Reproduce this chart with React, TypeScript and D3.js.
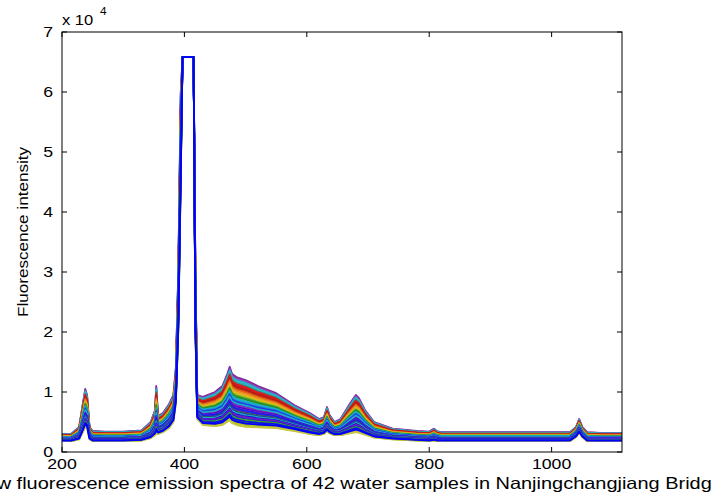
import React from "react";
import * as d3 from "d3";

// Wavelength breakpoints (nm)
const wavelengths = [200, 215, 228, 234, 238, 241, 245, 250, 270, 300, 330, 345, 352, 354, 357, 365, 375, 382, 386, 390, 394, 397, 415, 418, 421, 430, 450, 462, 470, 474, 478, 485, 500, 520, 550, 580, 605, 620, 628, 633, 637, 645, 655, 670, 680, 685, 695, 710, 740, 780, 800, 808, 812, 820, 860, 900, 950, 1000, 1030, 1040, 1045, 1050, 1058, 1080, 1115];
// Upper envelope of the 42 spectra
const upperEnvelope = [3000, 3000, 4200, 8000, 10500, 9500, 4200, 3500, 3400, 3400, 3600, 5000, 7000, 11000, 6000, 6500, 8000, 9500, 14000, 30000, 60000, 65800, 65800, 30000, 9500, 9200, 10000, 11000, 13000, 14200, 13000, 12500, 12000, 11000, 9800, 7800, 6500, 5500, 5800, 7500, 6200, 5000, 5500, 8000, 9500, 9000, 7000, 5000, 3900, 3500, 3400, 3900, 3500, 3300, 3300, 3300, 3300, 3300, 3300, 4200, 5500, 4200, 3300, 3200, 3200];
// Lower envelope of the 42 spectra
const lowerEnvelope = [1800, 1800, 2100, 3300, 4200, 3900, 2100, 1800, 1800, 1800, 1900, 2300, 2800, 3000, 3000, 3300, 4000, 5000, 8000, 20000, 45000, 65800, 65800, 20000, 5500, 4500, 4300, 4500, 5000, 5300, 4800, 4500, 4200, 4100, 4000, 3500, 3000, 2800, 3000, 3400, 3100, 2800, 2800, 3100, 3300, 3200, 2900, 2400, 2100, 1900, 1800, 1900, 1800, 1800, 1800, 1800, 1800, 1800, 1800, 2500, 3200, 2500, 1800, 1800, 1800];

// 42 samples: relative position inside the band (1 = top, 0 = bottom), in drawing order
const sampleLevels = [1.0, 0.97, 0.94, 0.91, 0.88, 0.85, 0.82, 0.79, 0.76, 0.73, 0.70, 0.67, 0.64, 0.61, 0.58, 0.55, 0.52, 0.43, 0.40, 0.31, 0.19, 0.13, 0.09, 0.05, 0.03, 0.01, 0.0,
  0.49, 0.46, 0.45, 0.37, 0.355, 0.34, 0.28, 0.265, 0.25, 0.22, 0.205, 0.16, 0.145, 0.11, 0.07];
const sampleColors = ["#7a2a9a", "#a030b0", "#20a8c8", "#30b8c0", "#20a0a0", "#d02020", "#e01818", "#a81818", "#c83010", "#e06818", "#f08a20", "#e0b020", "#c8c010", "#40a030", "#208a20", "#20b0b0", "#10a8d8", "#6a20c0", "#9020a8", "#5028b8", "#7030a8", "#208a20", "#40a040", "#90b820", "#c0c020", "#a8c830", "#c8c840",
  "#2050e0", "#1010f0", "#20a8c8", "#0000ff", "#a020b0", "#1820e8", "#208a20", "#2020d8", "#20b0b0", "#0000ee", "#6a20c0", "#0000ff", "#40a030", "#1010e8", "#0000ff"];

const xTicks = [200, 400, 600, 800, 1000];
const yTicks = [0, 1, 2, 3, 4, 5, 6, 7];

const W = 712, H = 497;
const L = 62, R = 622, T = 32, B = 452;
const FONT = "'Liberation Sans', Arial, Helvetica, sans-serif";
const STRETCH = 1.18;

export default function App() {
  const x = d3.scaleLinear().domain([200, 1115]).range([L, R]);
  const y = d3.scaleLinear().domain([0, 70000]).range([B, T]);
  const line = d3.line<[number, number]>().x((d) => x(d[0])).y((d) => y(d[1]));
  const tl = 5;

  return (
    <svg width={W} height={H} style={{ position: "absolute", left: 0, top: 0, background: "#fff" }} fontFamily={FONT}>
      <rect x={0} y={0} width={W} height={H} fill="#fff" />
      <defs>
        <clipPath id="plot"><rect x={L} y={T} width={R - L} height={B - T} /></clipPath>
      </defs>
      <g clipPath="url(#plot)">
        {sampleLevels.map((lv, i) => {
          const pts: [number, number][] = wavelengths.map((w, k) => [w, lowerEnvelope[k] + lv * (upperEnvelope[k] - lowerEnvelope[k])]);
          return <path key={i} d={line(pts) || ""} fill="none" stroke={sampleColors[i]} strokeWidth={1.8} strokeLinejoin="round" />;
        })}
      </g>
      {/* axes box */}
      <rect x={L} y={T} width={R - L} height={B - T} fill="none" stroke="#000" strokeWidth={1} />
      {xTicks.map((t) => (
        <g key={"x" + t}>
          <line x1={x(t)} x2={x(t)} y1={B} y2={B - tl} stroke="#000" />
          <line x1={x(t)} x2={x(t)} y1={T} y2={T + tl} stroke="#000" />
          <text transform={`translate(${x(t)},469) scale(${STRETCH},1)`} textAnchor="middle" fontSize={15} fill="#000">{t}</text>
        </g>
      ))}
      {yTicks.map((t) => (
        <g key={"y" + t}>
          <line x1={L} x2={L + tl} y1={y(t * 1e4)} y2={y(t * 1e4)} stroke="#000" />
          <line x1={R} x2={R - tl} y1={y(t * 1e4)} y2={y(t * 1e4)} stroke="#000" />
          <text transform={`translate(53,${y(t * 1e4) + 5}) scale(${STRETCH},1)`} textAnchor="end" fontSize={15} fill="#000">{t}</text>
        </g>
      ))}
      <text transform={`translate(62,25) scale(${STRETCH},1)`} fontSize={14} fill="#000">x 10</text>
      <text transform={`translate(100,15) scale(${STRETCH},1)`} fontSize={10} fill="#000">4</text>
      <text transform={`translate(28,232) rotate(-90) scale(${STRETCH},1)`} textAnchor="middle" fontSize={14.5} fill="#000">Fluorescence intensity</text>
      <text transform={`translate(347,489) scale(1.21,1)`} textAnchor="middle" fontSize={16.5} fill="#000">Raw fluorescence emission spectra of 42 water samples in Nanjingchangjiang Bridge</text>
    </svg>
  );
}
